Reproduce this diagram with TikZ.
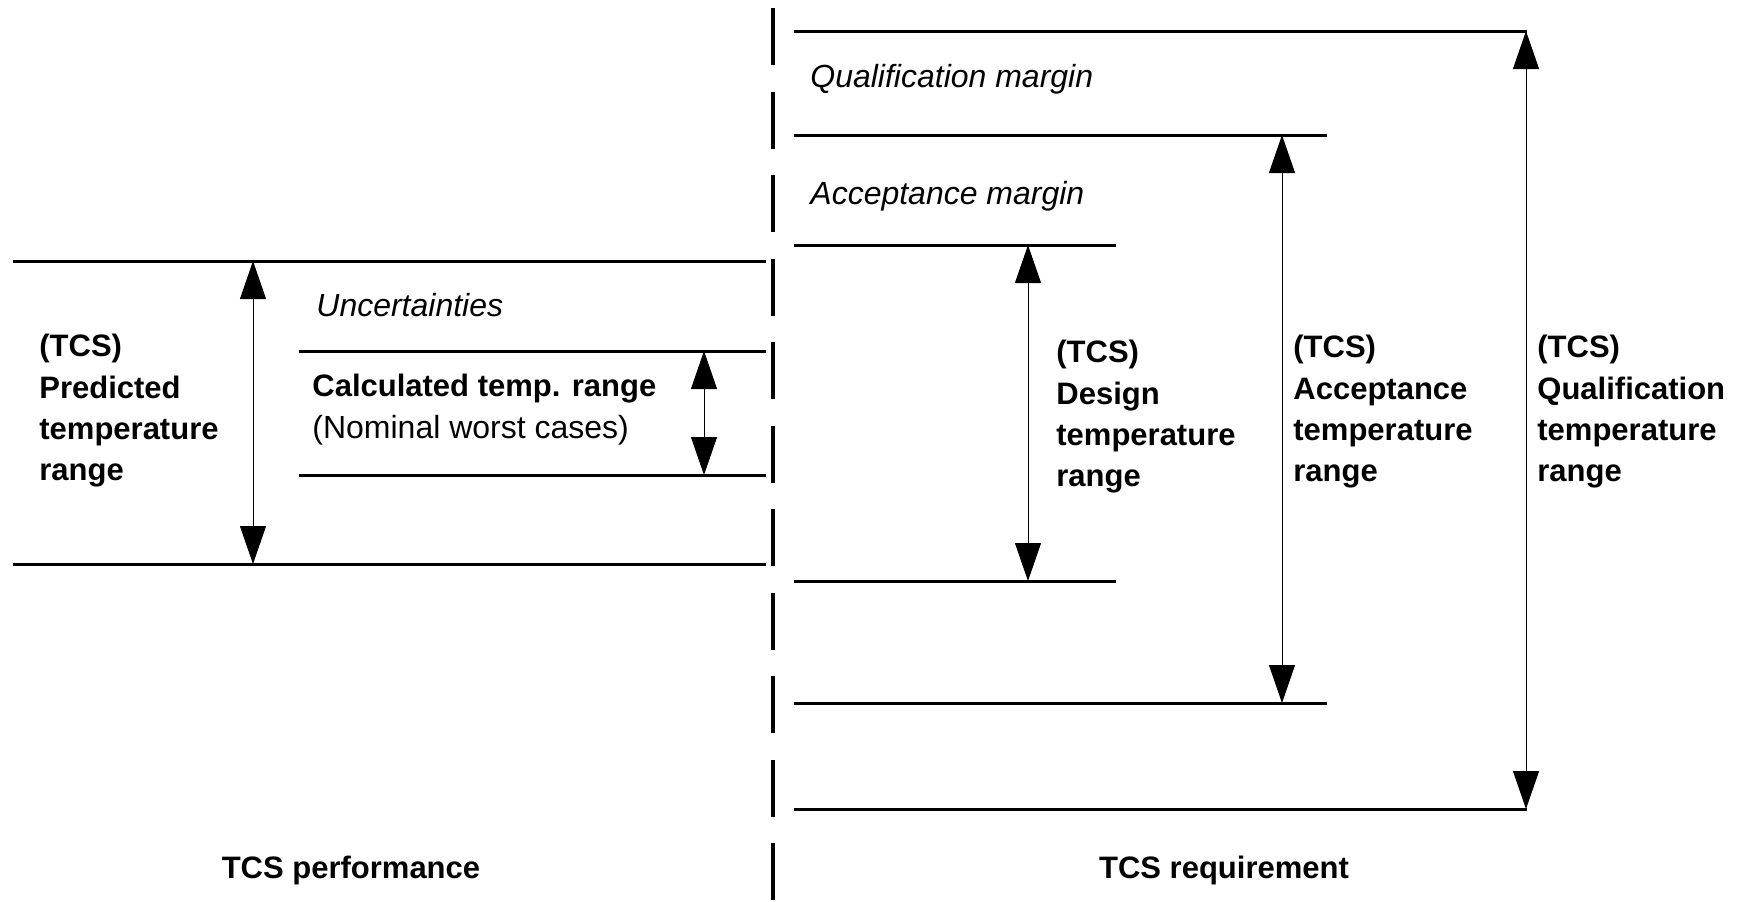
\documentclass[tikz,border=0pt]{standalone}
\usepackage{fontspec}
\setmainfont{Liberation Sans}
\usetikzlibrary{arrows.meta}

\tikzset{
  niveau/.style={line width=1.5pt},
  fleche/.style={{Triangle[length=19pt,width=13pt]}-{Triangle[length=19pt,width=13pt]}, line width=0.5pt},
  separation/.style={line width=1.6pt, dash pattern=on 28.5pt off 13.25pt},
  etiquette/.style={inner sep=0pt, anchor=north west, align=left, font=\fontsize{15.5}{20.6}\selectfont\bfseries},
  marge/.style={inner sep=0pt, anchor=base west, font=\fontsize{16}{19}\selectfont\itshape},
  titre/.style={inner sep=0pt, anchor=base, font=\fontsize{15.5}{19}\selectfont\bfseries}
}

\begin{document}
\begin{tikzpicture}[x=0.5pt, y=-0.5pt]
    % Cadre de l'image
    \useasboundingbox (0,0) rectangle (1741,901);

    % Ligne de separation
    \coordinate (sepH) at (773,8);
    \coordinate (sepB) at (773,901);
    \draw[separation] (sepH) -- (sepB);

    % Niveaux : nom / x debut / x fin / x fleche / y
    \foreach \nom/\xa/\xb/\xf/\y in {pH/13/766/253/261, pB/13/766/253/564,
                                      cH/299/766/704/351, cB/299/766/704/475,
                                      qH/794/1527/1526/31, qB/794/1527/1526/809,
                                      aH/794/1327/1282/135, aB/794/1327/1282/703,
                                      dH/794/1116/1028/245, dB/794/1116/1028/581} {
        \draw[niveau] (\xa,\y) -- (\xb,\y);
        \coordinate (\nom) at (\xf,\y);
    }

    % Fleches des plages
    \draw[fleche] (pH) -- (pB);
    \draw[fleche] (cH) -- (cB);
    \draw[fleche] (qH) -- (qB);
    \draw[fleche] (aH) -- (aB);
    \draw[fleche] (dH) -- (dB);

    % Textes
    \node[etiquette] (predit) at (39,334) {(TCS)\\Predicted\\temperature\\range};
    \node[etiquette, font=\fontsize{16}{20.6}\selectfont] (calcul) at (312,374)
        {{\bfseries\fontsize{15.5}{20.6}\selectfont Calculated temp. range}\\(Nominal worst cases)};
    \node[marge] (incert) at (316,316) {Uncertainties};
    \node[marge] (qmarge) at (810,87) {Qualification margin};
    \node[marge] (amarge) at (810,204) {Acceptance margin};
    \node[etiquette] (conception) at (1056,340) {(TCS)\\Design\\temperature\\range};
    \node[etiquette] (acceptation) at (1293,335) {(TCS)\\Acceptance\\temperature\\range};
    \node[etiquette] (qualification) at (1537,335) {(TCS)\\Qualification\\temperature\\range};
    \node[titre] (perf) at (351,878) {TCS performance};
    \node[titre] (exig) at (1224,878) {TCS requirement};
\end{tikzpicture}
\end{document}
